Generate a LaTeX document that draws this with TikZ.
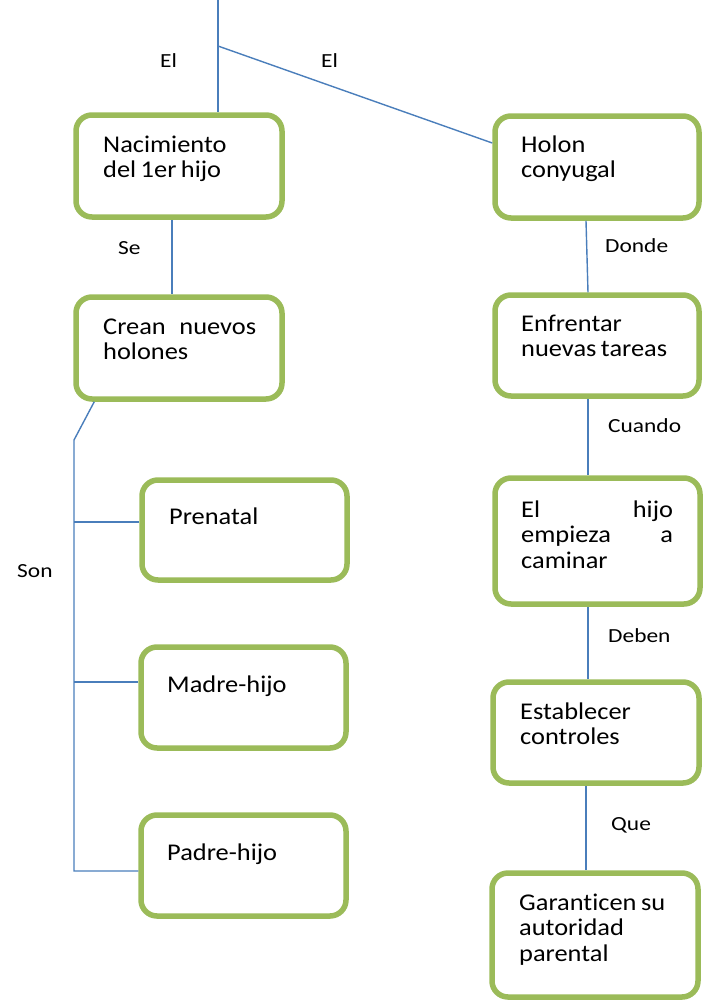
\documentclass[tikz,border=0pt]{standalone}
\usepackage{fontspec}
\setmainfont{Carlito}[Ligatures={NoCommon}]
\definecolor{boxgreen}{HTML}{9BBB59}
\definecolor{lineblue}{HTML}{4A7EBB}
\newcommand\tightspace{\spaceskip=0.17em plus 0.05em\relax}
\tikzset{
  box/.style={draw=boxgreen, line width=5.5pt, rounded corners=16pt, fill=white, inner sep=0pt},
  conn/.style={draw=lineblue, line width=1.4pt},
  btext/.style={anchor=base west, inner sep=0pt, xscale=1.1, font=\fontsize{24}{25.5}\selectfont, align=left, execute at begin node=\tightspace},
  lbl/.style={anchor=base west, inner sep=0pt, xscale=1.17, font=\fontsize{20}{22}\selectfont}
}
\begin{document}
\begin{tikzpicture}[x=1pt,y=-1pt]
\useasboundingbox (0,0) rectangle (712,1005);
% boxes
\node[box, minimum width=206pt, minimum height=102pt] (nac) at (179,166) {};
\node[box, minimum width=206pt, minimum height=102pt] (crean) at (179,348) {};
\node[box, minimum width=204pt, minimum height=102pt] (holon) at (597,167) {};
\node[box, minimum width=204pt, minimum height=101pt] (enfr) at (597,345.5) {};
\node[box, minimum width=205pt, minimum height=126pt] (hijo) at (597.5,541) {};
\node[box, minimum width=206pt, minimum height=101pt] (est) at (596,732.5) {};
\node[box, minimum width=206pt, minimum height=124pt] (gar) at (595,935) {};
\node[box, minimum width=205pt, minimum height=100pt] (pre) at (244.5,530) {};
\node[box, minimum width=205pt, minimum height=101pt] (madre) at (243.5,697.5) {};
\node[box, minimum width=205pt, minimum height=101pt] (padre) at (243.5,865.5) {};
% box texts
\node[btext, text width=150pt] (tnac) at (103,152) {Nacimiento\\del 1er hijo};
\node[btext, text width=139pt] (tcrean) at (103,334) {Crean\hfill nuevos\\holones};
\node[btext, text width=150pt] (tholon) at (521,152) {Holon\\conyugal};
\node[btext, text width=150pt] (tenfr) at (521,331) {Enfrentar\\nuevas tareas};
\node[btext, text width=138pt] (thijo) at (521,517) {El\hfill hijo\\empieza\hfill a\\caminar};
\node[btext, text width=150pt] (tpre) at (169,524) {Prenatal};
\node[btext, text width=150pt] (tmadre) at (167,692) {Madre-hijo};
\node[btext, text width=150pt] (test) at (520,719) {Establecer\\controles};
\node[btext, text width=150pt] (tpadre) at (167,860) {Padre-hijo};
\node[btext, text width=160pt] (tgar) at (519,910) {Garanticen su\\autoridad\\parental};
% connectors
\coordinate (top) at (218,0);
\coordinate (j) at (218,46);
\coordinate (b0) at (74,440);
\coordinate (pin) at ([yshift=8pt]pre.west);
\coordinate (min) at ([yshift=15.5pt]madre.west);
\coordinate (fin) at ([yshift=-5.5pt]padre.west);
\draw[conn] (top) -- (j) -- (j |- nac.north);
\draw[conn] (j) -- ([yshift=24pt]holon.west);
\draw[conn] ([xshift=-7pt]nac.south) -- ([xshift=-7pt]crean.north);
\draw[conn] ([xshift=-11pt]holon.south) -- ([xshift=-9pt]enfr.north);
\draw[conn] ([xshift=-9pt]enfr.south) -- ([xshift=-9.5pt]hijo.north);
\draw[conn] ([xshift=-9.5pt]hijo.south) -- ([xshift=-8pt]est.north);
\draw[conn] ([xshift=-10pt]est.south) -- ([xshift=-9pt]gar.north);
\draw[conn] ([xshift=21pt]crean.south west) -- (b0) -- (b0 |- fin) -- (fin);
\draw[conn] (b0 |- pin) -- (pin);
\draw[conn] (b0 |- min) -- (min);
% labels
\node[lbl] (l1) at (160,67) {El};
\node[lbl] (l2) at (321,67) {El};
\node[lbl] (l3) at (118,254) {Se};
\node[lbl] (l4) at (605,252) {Donde};
\node[lbl] (l5) at (608,432) {Cuando};
\node[lbl] (l6) at (17,577) {Son};
\node[lbl] (l7) at (608,642) {Deben};
\node[lbl] (l8) at (611,830) {Que};
\end{tikzpicture}
\end{document}
